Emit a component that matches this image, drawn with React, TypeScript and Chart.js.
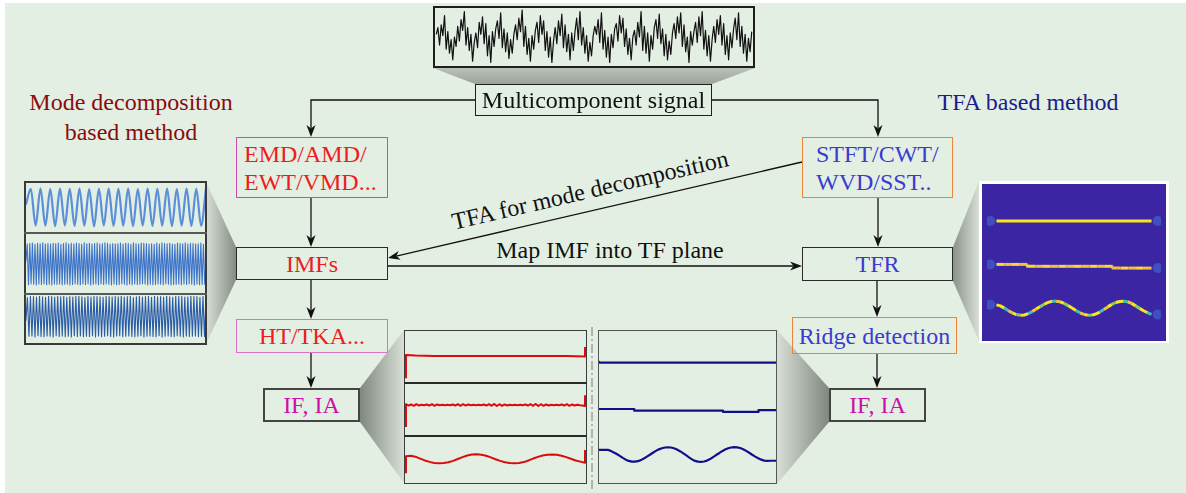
import React, { useEffect, useRef } from "react";
import { Chart, registerables } from "chart.js";

Chart.register(...registerables);

const FONT = '"Liberation Serif", "Times New Roman", serif';

// ---------- signals ----------

// the observed multicomponent signal (normalised)
const mixedSignal = [
  0.10, 0.35, -0.30, 0.45, 0.05, 0.80, -0.45, 0.20, -0.60, -0.10, -0.85, 0.00,
  -0.35, 0.40, -0.15, 0.65, 0.25, 0.95, -0.30, 0.35, -0.50, 0.10, -0.90, -0.20,
  0.15, -0.40, 0.55, 0.10, 0.75, -0.25, 0.50, -0.70, 0.05, -0.95, 0.20, -0.35,
  0.30, 0.60, -0.05, 0.90, -0.40, 0.30, -0.55, 0.15, -0.80, -0.10, -0.60, 0.10,
  0.45, -0.10, 0.70, 0.20, 1.00, -0.35, 0.40, -0.65, -0.05, -0.90, 0.05, -0.45,
  0.25, 0.55, -0.20, 0.80, 0.10, 0.60, -0.50, 0.20, -0.75, 0.00, -0.95, -0.15,
  0.35, -0.25, 0.60, 0.05, 0.85, -0.40, 0.45, -0.55, 0.10, -0.85, 0.15, -0.50,
  0.20, 0.70, -0.10, 0.95, -0.30, 0.35, -0.60, 0.05, -0.90, -0.20, -0.70, 0.05,
  0.40, 0.10, 0.65, -0.20, 0.90, -0.45, 0.25, -0.75, 0.00, -0.95, 0.10, -0.40,
  0.30, 0.50, -0.15, 0.80, 0.15, 0.70, -0.35, 0.30, -0.65, -0.05, -0.85, 0.00,
  0.25, -0.30, 0.55, 0.00, 0.95, -0.50, 0.40, -0.60, 0.15, -0.90, 0.05, -0.45,
  0.35, 0.65, -0.05, 0.85, -0.25, 0.30, -0.70, 0.10, -0.85, -0.15, -0.65, 0.15,
  0.50, -0.05, 0.75, 0.15, 0.90, -0.35, 0.45, -0.55, 0.00, -0.95, 0.20, -0.30,
  0.20, 0.55, -0.20, 0.75, 0.05, 0.95, -0.45, 0.25, -0.70, 0.05, -0.90, -0.10,
  0.40, -0.20, 0.65, 0.10, 0.80, -0.30, 0.50, -0.65, 0.05, -0.85, 0.15, -0.40,
  0.30, 0.70, -0.10, 0.90, -0.35, 0.40, -0.60, 0.10, -0.90, -0.05, -0.55, 0.20,
];

// intrinsic mode functions (successive extrema)
const imf1Extrema = [
  0.15, 0.95, -0.92, 0.96, -0.93, 0.94, -0.95, 0.97, -0.92, 0.95, -0.94, 0.96, -0.93,
  0.94, -0.96, 0.95, -0.92, 0.97, -0.94, 0.95, -0.93, 0.96, -0.95, 0.94, -0.92, 0.97,
  -0.94, 0.95, -0.93, 0.96, -0.95, 0.94, -0.92, 0.96, -0.94, 0.95, -0.93, 0.97,
];

const imf2Extrema = [
  0.10, 0.92, -0.95, 0.94, -0.91, 0.96, -0.93, 0.90, -0.96, 0.95,
  -0.92, 0.93, -0.94, 0.97, -0.90, 0.92, -0.95, 0.94, -0.93, 0.91,
  -0.96, 0.95, -0.92, 0.93, -0.94, 0.96, -0.91, 0.90, -0.95, 0.94,
  -0.93, 0.97, -0.92, 0.91, -0.96, 0.95, -0.94, 0.92, -0.90, 0.96,
  -0.93, 0.94, -0.95, 0.90, -0.92, 0.97, -0.94, 0.93, -0.91, 0.95,
  -0.96, 0.92, -0.93, 0.94, -0.90, 0.96, -0.95, 0.91, -0.92, 0.93,
  -0.94, 0.97, -0.91, 0.95, -0.93, 0.90, -0.96, 0.94, -0.92, 0.92,
  -0.95, 0.93, -0.94, 0.96, -0.90, 0.91, -0.93, 0.95, -0.96, 0.94,
  -0.92, 0.90, -0.95, 0.97, -0.91, 0.93, -0.94, 0.92, -0.93, 0.96,
  -0.90, 0.95, -0.92, 0.94, -0.96, 0.91, -0.93, 0.93, -0.95, 0.90,
  -0.94, 0.96, -0.91, 0.92, -0.93, 0.97, -0.95, 0.94, -0.90, 0.93,
  -0.92, 0.95, -0.96, 0.91, -0.94, 0.90, -0.93, 0.96, -0.92, 0.94,
  -0.95, 0.93, -0.91, 0.97, -0.94, 0.92, -0.90, 0.95, -0.93, 0.94,
  -0.96, 0.91, -0.92, 0.93, -0.95, 0.96, -0.94, 0.90, -0.93, 0.05,
];

const imf3Extrema = [
  -0.20, 0.90, -0.93, 0.95, -0.92, 0.94, -0.96, 0.92, -0.91, 0.96,
  -0.94, 0.93, -0.95, 0.91, -0.92, 0.97, -0.93, 0.94, -0.96, 0.92,
  -0.90, 0.95, -0.94, 0.93, -0.92, 0.96, -0.95, 0.91, -0.93, 0.94,
  -0.96, 0.92, -0.91, 0.95, -0.94, 0.97, -0.92, 0.93, -0.95, 0.90,
  -0.93, 0.96, -0.94, 0.92, -0.91, 0.95, -0.96, 0.94, -0.92, 0.93,
  -0.95, 0.91, -0.93, 0.96, -0.90, 0.94, -0.94, 0.92, -0.96, 0.95,
  -0.92, 0.93, -0.91, 0.97, -0.95, 0.92, -0.93, 0.94, -0.92, 0.96,
  -0.94, 0.90, -0.95, 0.93, -0.93, 0.95, -0.91, 0.92, -0.96, 0.94,
  -0.93, 0.96, -0.92, 0.91, -0.94, 0.95, -0.95, 0.93, -0.90, 0.94,
  -0.96, 0.92, -0.93, 0.97, -0.92, 0.93, -0.94, 0.91, -0.95, 0.96,
  -0.91, 0.94, -0.93, 0.95, -0.96, 0.92, -0.92, 0.93, -0.94, 0.97,
  -0.93, 0.95, -0.92, 0.94, -0.95, 0.91, -0.93, 0.96, -0.94, 0.95,
];

// instantaneous frequency from HT/TKA (relative level within each strip)
const htIf1 = [
  0.53, 0.52, 0.515, 0.51, 0.51, 0.51, 0.51, 0.51, 0.51, 0.51,
  0.51, 0.51, 0.51, 0.51, 0.51, 0.51, 0.51, 0.51, 0.505, 0.50,
];
const htIf2 = [
  0.60, 0.575, 0.595, 0.57, 0.60, 0.575, 0.59, 0.58, 0.595, 0.575,
  0.60, 0.57, 0.595, 0.58, 0.59, 0.58, 0.59, 0.58, 0.595, 0.575,
  0.60, 0.57, 0.60, 0.575, 0.595, 0.58, 0.59, 0.58, 0.59, 0.58,
  0.595, 0.575, 0.60, 0.57, 0.605, 0.565, 0.60, 0.57, 0.595, 0.575,
  0.59, 0.58, 0.59, 0.58, 0.59, 0.58, 0.595, 0.575, 0.60, 0.57,
  0.605, 0.565, 0.60, 0.57, 0.595, 0.575, 0.59, 0.58, 0.59, 0.58,
  0.595, 0.575, 0.60, 0.57, 0.595, 0.575, 0.59, 0.58, 0.575, 0.565,
];
const htIf3 = [
  0.57, 0.58, 0.56, 0.52, 0.48, 0.45, 0.425, 0.42, 0.425, 0.44,
  0.47, 0.51, 0.55, 0.585, 0.605, 0.61, 0.60, 0.58, 0.545, 0.505,
  0.47, 0.44, 0.425, 0.42, 0.425, 0.445, 0.48, 0.52, 0.555, 0.585,
  0.60, 0.605, 0.60, 0.58, 0.55, 0.515, 0.48, 0.455, 0.43,
];
// end-effect transients at both ends of each HT estimate
const htStartSpike = [0.09, 0.17, 0.21];
const htEndSpike = [0.68, 0.77, 0.70];

// instantaneous frequency from ridge detection (shared panel scale)
const ridgeIf1 = [
  0.80, 0.788, 0.788, 0.788, 0.788, 0.788, 0.788, 0.788, 0.788, 0.788, 0.788,
  0.788, 0.788, 0.788, 0.788, 0.788, 0.788, 0.788, 0.788, 0.788, 0.788,
];
const ridgeIf2 = [
  0.487, 0.487, 0.487, 0.487, 0.487, 0.476, 0.476, 0.476, 0.476, 0.476, 0.476,
  0.476, 0.476, 0.476, 0.476, 0.468, 0.468, 0.468, 0.468, 0.48, 0.48,
];
const ridgeIf3 = [
  0.222, 0.222, 0.222, 0.222, 0.215, 0.205, 0.195, 0.183, 0.170, 0.158,
  0.150, 0.145, 0.145, 0.148, 0.155, 0.165, 0.178, 0.190, 0.203, 0.215,
  0.225, 0.232, 0.237, 0.238, 0.237, 0.232, 0.224, 0.213, 0.200, 0.187,
  0.173, 0.160, 0.150, 0.145, 0.144, 0.146, 0.152, 0.162, 0.175, 0.188,
  0.200, 0.213, 0.224, 0.232, 0.237, 0.239, 0.238, 0.234, 0.226, 0.215,
  0.203, 0.190, 0.178, 0.167, 0.158, 0.152, 0.150, 0.151, 0.151, 0.151,
];

// ridges of the time-frequency representation
const tfrRidge1 = [0.782, 0.782, 0.782, 0.782];
const tfrRidge2 = [
  0.487, 0.487, 0.487, 0.487, 0.487, 0.474, 0.474, 0.474, 0.474, 0.474, 0.474,
  0.474, 0.474, 0.474, 0.474, 0.474, 0.462, 0.462, 0.462, 0.462, 0.462,
];
const tfrRidge3 = [
  0.212, 0.205, 0.190, 0.172, 0.157, 0.146, 0.141, 0.143, 0.152, 0.166,
  0.183, 0.200, 0.216, 0.229, 0.236, 0.237, 0.233, 0.222, 0.207, 0.190,
  0.173, 0.158, 0.147, 0.141, 0.142, 0.150, 0.163, 0.180, 0.198, 0.215,
  0.228, 0.235, 0.237, 0.233, 0.222, 0.205, 0.188, 0.172, 0.158, 0.147,
];

// ---------- chart helpers ----------

type SeriesSpec = {
  values: number[];
  color: string;
  width: number;
  lead?: number;
  tail?: number;
  smooth?: boolean;
  stepped?: boolean;
  palette?: string[];
  glow?: string;
};

function toDatasets(series: SeriesSpec[]) {
  const out: any[] = [];
  series.forEach((s) => {
    const n = s.values.length;
    const pts = s.values.map((v, i) => ({ x: n > 1 ? i / (n - 1) : 0, y: v }));
    if (s.lead !== undefined) pts.unshift({ x: 0, y: s.lead });
    if (s.tail !== undefined) pts.push({ x: 1, y: s.tail });
    const ds: any = {
      data: pts,
      borderColor: s.color,
      borderWidth: s.width,
      pointRadius: 0,
      fill: false,
      tension: 0,
      order: 0,
      borderJoinStyle: "round",
    };
    if (s.smooth) ds.cubicInterpolationMode = "monotone";
    if (s.stepped) ds.stepped = "after";
    if (s.palette) {
      const p = s.palette;
      ds.segment = { borderColor: (ctx: any) => p[ctx.p0DataIndex % p.length] };
    }
    out.push(ds);
    if (s.glow) {
      out.push({
        data: [
          { x: -0.04, y: s.values[0] },
          { x: 1.04, y: s.values[n - 1] },
        ],
        showLine: false,
        pointRadius: 5,
        pointBackgroundColor: s.glow,
        pointBorderWidth: 0,
        order: 10,
      });
    }
  });
  return out;
}

function MiniPlot(props: {
  box: [number, number, number, number];
  series: SeriesSpec[];
  y: [number, number];
  x?: [number, number];
  bg?: string;
}) {
  const ref = useRef<HTMLCanvasElement>(null);
  const { box, series, y, x = [0, 1], bg } = props;
  useEffect(() => {
    if (!ref.current) return;
    const chart = new Chart(ref.current, {
      type: "line",
      data: { datasets: toDatasets(series) },
      options: {
        animation: false,
        responsive: false,
        devicePixelRatio: 1,
        events: [],
        layout: { padding: 0 },
        plugins: { legend: { display: false }, tooltip: { enabled: false } },
        scales: {
          x: { type: "linear", display: false, min: x[0], max: x[1] },
          y: { type: "linear", display: false, min: y[0], max: y[1] },
        },
      },
    });
    return () => chart.destroy();
  }, []);
  const [l, t, w, h] = box;
  return (
    <canvas
      ref={ref}
      width={w}
      height={h}
      style={{ position: "absolute", left: l, top: t, width: w, height: h, background: bg }}
    />
  );
}

// ---------- diagram helpers ----------

function Box(props: {
  x: number; y: number; w: number; h: number;
  border: string; color: string; lines: string[]; padLeft?: number; bw?: number;
}) {
  const { x, y, w, h, border, color, lines, padLeft, bw = 1.5 } = props;
  return (
    <div
      style={{
        position: "absolute", left: x, top: y, width: w, height: h, boxSizing: "border-box",
        border: `${bw}px solid ${border}`, color, fontFamily: FONT, fontSize: 24,
        lineHeight: "28px", display: "flex", flexDirection: "column", justifyContent: "center",
        alignItems: padLeft !== undefined ? "flex-start" : "center",
        paddingLeft: padLeft ?? 0, whiteSpace: "nowrap",
      }}
    >
      {lines.map((s, i) => (
        <div key={i}>{s}</div>
      ))}
    </div>
  );
}

function Label(props: { x: number; y: number; w: number; color: string; lines: string[] }) {
  const { x, y, w, color, lines } = props;
  return (
    <div
      style={{
        position: "absolute", left: x, top: y, width: w, textAlign: "center", color,
        fontFamily: FONT, fontSize: 24, lineHeight: "30px", whiteSpace: "nowrap",
      }}
    >
      {lines.map((s, i) => (
        <div key={i}>{s}</div>
      ))}
    </div>
  );
}

function arrowPath(pts: [number, number][]) {
  const [tx, ty] = pts[pts.length - 1];
  const [fx, fy] = pts[pts.length - 2];
  const a = Math.atan2(ty - fy, tx - fx);
  const c = Math.cos(a), s = Math.sin(a);
  const L = 12, W = 4.5, N = 3.5;
  const p = (dx: number, dy: number) => `${tx + dx * c - dy * s},${ty + dx * s + dy * c}`;
  const head = `M${p(0, 0)} L${p(-L, W)} L${p(-L + N, 0)} L${p(-L, -W)} Z`;
  const shaftEnd: [number, number] = [tx - (L - N) * c, ty - (L - N) * s];
  const shaft = [...pts.slice(0, -1), shaftEnd].map(([x, y]) => `${x},${y}`).join(" ");
  return { head, shaft };
}

const ARROWS: [number, number][][] = [
  [[475, 100], [311, 100], [311, 137]],
  [[712, 100], [878, 100], [878, 137]],
  [[311, 198], [311, 247]],
  [[311, 280], [311, 319]],
  [[311, 353], [311, 388]],
  [[878, 198], [878, 247]],
  [[877, 281], [877, 317]],
  [[877, 354], [877, 388]],
  [[388, 266], [802, 266]],
  [[802, 162], [388, 258]],
];

const FUNNELS = [
  { pts: "433,68 755,68 712,84 475,84", g: [594, 68, 594, 84], from: "#b9c1b8", to: "#9aa299" },
  { pts: "206,182 236,247 236,280 206,344", g: [206, 0, 236, 0], from: "#d8dfd7", to: "#848c84" },
  { pts: "953,247 979,181 979,341 953,281", g: [979, 0, 953, 0], from: "#d8dfd7", to: "#8a928a" },
  { pts: "360,388 404,330 404,483 360,422", g: [404, 0, 360, 0], from: "#d8dfd7", to: "#7f877f" },
  { pts: "777,330 829,388 829,422 777,484", g: [777, 0, 829, 0], from: "#d8dfd7", to: "#7f877f" },
];

const RED = "#ee1c1c";
const BLUE = "#3b3bcf";
const MAGENTA = "#cc10aa";
const PINK_BORDER = "#d048b8";
const ORANGE_BORDER = "#f08436";
const TFR_BG = "#3c25a2";
const TFR_YELLOW = "#f8e31f";
const TFR_GLOW = "rgba(70,160,240,0.35)";

export default function App() {
  const tiltDeg = (Math.atan2(162 - 258, 802 - 388) * 180) / Math.PI;
  return (
    <div
      style={{
        position: "fixed", left: 0, top: 0, width: 1186, height: 493,
        background: "#ffffff", overflow: "hidden",
      }}
    >
      <div style={{ position: "absolute", left: 5, top: 3, width: 1181, height: 490, background: "#e4efe4" }} />

      <svg width={1186} height={493} style={{ position: "absolute", left: 0, top: 0 }}>
        <defs>
          {FUNNELS.map((f, i) => (
            <linearGradient key={i} id={`fg${i}`} gradientUnits="userSpaceOnUse"
              x1={f.g[0]} y1={f.g[1]} x2={f.g[2]} y2={f.g[3]}>
              <stop offset="0" stopColor={f.from} />
              <stop offset="1" stopColor={f.to} />
            </linearGradient>
          ))}
        </defs>
        {FUNNELS.map((f, i) => (
          <polygon key={i} points={f.pts} fill={`url(#fg${i})`} />
        ))}
        {ARROWS.map((pts, i) => {
          const { head, shaft } = arrowPath(pts);
          return (
            <g key={i}>
              <polyline points={shaft} fill="none" stroke="#111" strokeWidth={1.3} />
              <path d={head} fill="#111" />
            </g>
          );
        })}
        <line x1={592} y1={327} x2={592} y2={490} stroke="#7a7a7a" strokeWidth={1} strokeDasharray="9 3 2 3" />
      </svg>

      {/* observed signal */}
      <MiniPlot
        box={[435, 8, 318, 58]}
        series={[{ values: mixedSignal, color: "#111111", width: 1.2 }]}
        y={[-1.08, 1.08]}
        x={[-0.004, 1.004]}
      />
      <div style={{ position: "absolute", left: 433, top: 6, width: 322, height: 62, boxSizing: "border-box", border: "2px solid #1e1e1e" }} />

      {/* IMF panel */}
      <MiniPlot box={[25, 183, 181, 49]} series={[{ values: imf1Extrema, color: "#5b8fd9", width: 2.2, smooth: true }]} y={[-1.25, 1.25]} x={[-0.005, 1.0]} />
      <MiniPlot box={[25, 235, 181, 58]} series={[{ values: imf2Extrema, color: "#3d74c9", width: 1.1 }]} y={[-1.33, 1.33]} x={[-0.005, 1.0]} />
      <MiniPlot box={[25, 296, 181, 47]} series={[{ values: imf3Extrema, color: "#2b5ca6", width: 1.1 }]} y={[-1.25, 0.97]} x={[-0.005, 1.0]} />
      <div style={{ position: "absolute", left: 24, top: 181, width: 183, height: 164, boxSizing: "border-box", border: "2px solid #3a3a3a" }} />
      <div style={{ position: "absolute", left: 24, top: 232, width: 183, height: 2, background: "#555a55" }} />
      <div style={{ position: "absolute", left: 24, top: 293, width: 183, height: 2, background: "#555a55" }} />

      {/* HT/TKA instantaneous frequency panel */}
      <MiniPlot box={[404, 330, 183, 53]} series={[{ values: htIf1, color: "#dd0a0a", width: 2, lead: htStartSpike[0], tail: htEndSpike[0] }]} y={[0, 1]} x={[-0.011, 1.011]} />
      <MiniPlot box={[404, 383, 183, 53]} series={[{ values: htIf2, color: "#dd0a0a", width: 2, lead: htStartSpike[1], tail: htEndSpike[1] }]} y={[0, 1]} x={[-0.011, 1.011]} />
      <MiniPlot box={[404, 436, 183, 47]} series={[{ values: htIf3, color: "#dd0a0a", width: 2, lead: htStartSpike[2], tail: htEndSpike[2] }]} y={[0, 1]} x={[-0.011, 1.011]} />
      <div style={{ position: "absolute", left: 404, top: 330, width: 183, height: 154, boxSizing: "border-box", border: "1.5px solid #3c3c3c" }} />
      <div style={{ position: "absolute", left: 404, top: 382, width: 183, height: 1.5, background: "#2a2a2a" }} />
      <div style={{ position: "absolute", left: 404, top: 435, width: 183, height: 1.5, background: "#2a2a2a" }} />

      {/* ridge-detection instantaneous frequency panel */}
      <MiniPlot
        box={[598, 330, 179, 154]}
        series={[
          { values: ridgeIf1, color: "#0f0f8c", width: 2.2, stepped: true },
          { values: ridgeIf2, color: "#0f0f8c", width: 2.2, stepped: true },
          { values: ridgeIf3, color: "#0f0f8c", width: 2.2 },
        ]}
        y={[0, 1]}
        x={[-0.004, 1.004]}
      />
      <div style={{ position: "absolute", left: 598, top: 330, width: 179, height: 154, boxSizing: "border-box", border: "1.5px solid #555" }} />

      {/* time-frequency representation */}
      <div style={{ position: "absolute", left: 979, top: 181, width: 190, height: 162, background: "#ffffff" }} />
      <MiniPlot
        box={[982, 184, 184, 157]}
        bg={TFR_BG}
        series={[
          { values: tfrRidge1, color: TFR_YELLOW, width: 3, glow: TFR_GLOW },
          { values: tfrRidge2, color: "#f5cf34", width: 3, stepped: true, palette: ["#f7d83a", "#f2be45"], glow: TFR_GLOW },
          { values: tfrRidge3, color: TFR_YELLOW, width: 3, palette: ["#f8e71c", "#f8e71c", "#3cc2bf", "#f2c83a", "#f8e71c", "#7fd36a"], glow: TFR_GLOW },
        ]}
        y={[0, 1]}
        x={[-0.061, 1.061]}
      />

      {/* flow boxes */}
      <Box x={475} y={84} w={237} h={32} border="#1e1e1e" color="#111" lines={["Multicomponent signal"]} />
      <Box x={236} y={137} w={152} h={61} border={PINK_BORDER} color={RED} lines={["EMD/AMD/", "EWT/VMD..."]} padLeft={7} />
      <Box x={236} y={247} w={152} h={33} border="#2a2a2a" color={RED} lines={["IMFs"]} />
      <Box x={236} y={319} w={152} h={34} border="#e070c8" color={RED} lines={["HT/TKA..."]} />
      <Box x={263} y={388} w={97} h={34} border="#444" color={MAGENTA} lines={["IF, IA"]} bw={2} />
      <Box x={802} y={137} w={151} h={61} border={ORANGE_BORDER} color={BLUE} lines={["STFT/CWT/", "WVD/SST.."]} padLeft={13} />
      <Box x={802} y={247} w={151} h={34} border="#2a2a2a" color={BLUE} lines={["TFR"]} />
      <Box x={792} y={317} w={165} h={37} border={ORANGE_BORDER} color={BLUE} lines={["Ridge detection"]} />
      <Box x={829} y={388} w={97} h={34} border="#444" color={MAGENTA} lines={["IF, IA"]} bw={2} />

      {/* captions */}
      <Label x={0} y={87} w={262} color="#8a0c0c" lines={["Mode decomposition", "based method"]} />
      <Label x={928} y={87} w={200} color="#1c1c8e" lines={["TFA based method"]} />
      <Label x={460} y={235} w={300} color="#111" lines={["Map IMF into TF plane"]} />
      <div
        style={{
          position: "absolute", left: 590, top: 190, transform: `translate(-50%, -50%) rotate(${tiltDeg}deg)`,
          fontFamily: FONT, fontSize: 24, color: "#111", whiteSpace: "nowrap", lineHeight: "28px",
        }}
      >
        TFA for mode decomposition
      </div>
    </div>
  );
}
